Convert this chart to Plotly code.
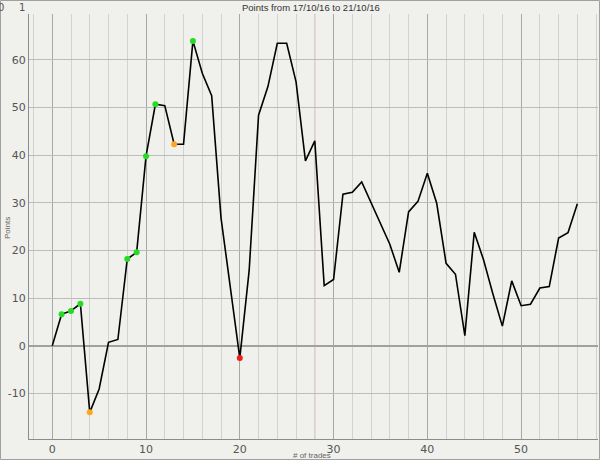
import plotly.graph_objects as go

trades = list(range(57))
points = [0, 6.6, 7.3, 8.8, -14.0, -9.1, 0.7, 1.3, 18.2, 19.6,
          39.8, 50.7, 50.4, 42.3, 42.3, 64.0, 57.2, 52.5, 26.8, 12.3,
          -2.6, 15.8, 48.4, 54.4, 63.5, 63.5, 55.4, 38.8, 43.0, 12.6,
          13.9, 31.8, 32.2, 34.4, 30.0, 25.7, 21.3, 15.4, 28.1, 30.3,
          36.2, 29.9, 17.3, 15.0, 2.1, 23.8, 18.0, 10.8, 4.1, 13.6,
          8.4, 8.7, 12.1, 12.4, 22.6, 23.7, 29.8]

green_x = [1, 2, 3, 8, 9, 10, 11, 15]
orange_x = [4, 13]
red_x = [20]
marker_x = [28]

y_tick_vals = [-10, 0, 10, 20, 30, 40, 50, 60]
y_tick_text = ["-10", "0", "10", "20", "30", "40", "50", "60"]

title_text = "Points from 17/10/16 to 21/10/16"
x_title = "# of trades"
y_title = "Points"

L, R, T, B = 29, 2, 14, 21
W, H = 600, 460
pw = W - L - R
ph = H - T - B


def px(xp):
    return (xp - L) / pw


def py(yp):
    return (H - B - yp) / ph


fig = go.Figure()
fig.add_trace(go.Scatter(x=trades, y=points, mode="lines",
                         line=dict(color="black", width=1.6),
                         hoverinfo="skip", showlegend=False))
for xs, col in [(green_x, "#22dd22"), (orange_x, "#ffa51e"), (red_x, "#ee1c1c")]:
    fig.add_trace(go.Scatter(x=xs, y=[points[i] for i in xs], mode="markers",
                             marker=dict(color=col, size=6), showlegend=False))

for xv in marker_x:
    fig.add_shape(type="line", x0=xv, x1=xv, y0=0, y1=1, yref="paper",
                  line=dict(color="#e89a9a", width=1), layer="below")

fig.update_layout(
    width=W, height=H,
    margin=dict(l=L, r=R, t=T, b=B, autoexpand=False),
    paper_bgcolor="#f0f0ec", plot_bgcolor="#f0f0ec",
    font=dict(family="DejaVu Sans", color="#444"),
    showlegend=False,
    xaxis=dict(range=[-2.48, 58.2], dtick=10, tick0=0, automargin=False,
               gridcolor="#a8a8a8", gridwidth=1,
               minor=dict(dtick=2, tick0=0, gridcolor="#d2d2d0", gridwidth=1, showgrid=True),
               showline=True, linecolor="#8c8c8c", linewidth=1, zeroline=False,
               tickfont=dict(size=11, color="#555"), ticks="", ticklen=0),
    yaxis=dict(range=[-19.6, 69.65], tickmode="array", tickvals=y_tick_vals,
               ticktext=y_tick_text, automargin=False,
               gridcolor="#bcbcbc", gridwidth=1,
               showline=True, linecolor="#8c8c8c", linewidth=1,
               zeroline=True, zerolinecolor="#a0a0a0", zerolinewidth=1.5,
               tickfont=dict(size=11, color="#555"), ticks=""),
)

ann = dict(xref="paper", yref="paper", showarrow=False, xanchor="center", yanchor="middle")
fig.add_annotation(text=title_text, x=px(311), y=py(8),
                   font=dict(family="Liberation Sans", size=9.5, color="#333"), **ann)
fig.add_annotation(text="0", x=px(1), y=py(7),
                   font=dict(size=10, color="#555"), **ann)
fig.add_annotation(text="1", x=px(22), y=py(7),
                   font=dict(size=10, color="#555"), **ann)
fig.add_annotation(text=x_title, x=px(312), y=py(455),
                   font=dict(family="Liberation Sans", size=8, color="#666"), **ann)
fig.add_annotation(text=y_title, x=px(7), y=py(228), textangle=-90,
                   font=dict(family="Liberation Sans", size=8, color="#666"), **ann)
fig.add_shape(type="rect", xref="paper", yref="paper",
              x0=px(0.5), x1=px(599.5), y0=py(459.5), y1=py(0.5),
              line=dict(color="#a0a0a0", width=1), layer="below")

fig.write_html("out.html", config={"displayModeBar": False},
               post_script="document.body.style.margin='0';document.body.style.overflow='hidden';")
